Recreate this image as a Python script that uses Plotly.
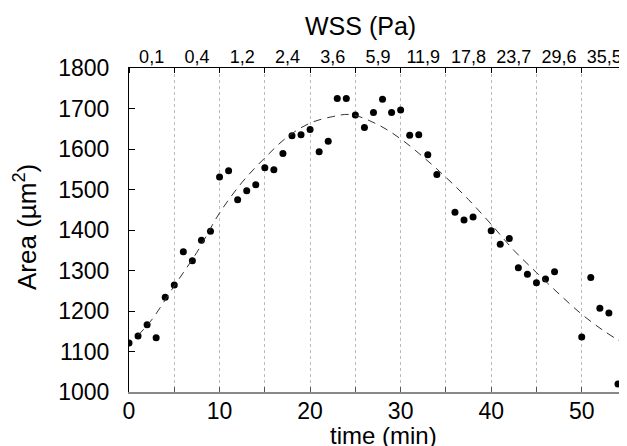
import plotly.graph_objects as go

# Measured data points (time in min, area in µm²)
time_min = [0, 1, 2, 3, 4, 5, 6, 7, 8, 9, 10, 11, 12, 13, 14, 15, 16, 17, 18, 19,
            20, 21, 22, 23, 24, 25, 26, 27, 28, 29, 30, 31, 32, 33, 34, 36, 37, 38,
            40, 41, 42, 43, 44, 45, 46, 47, 50, 51, 52, 53, 54]
area = [1121, 1138, 1166, 1134, 1234, 1264, 1346, 1324, 1375, 1397, 1531, 1546,
        1475, 1497, 1512, 1554, 1549, 1589, 1633, 1635, 1648, 1593, 1619, 1725,
        1725, 1684, 1653, 1690, 1723, 1690, 1696, 1634, 1635, 1586, 1537, 1444,
        1425, 1432, 1398, 1365, 1379, 1307, 1291, 1270, 1279, 1297, 1136, 1283,
        1207, 1195, 1020]

# Dashed fit curve
fit_t = [1, 2.5, 5, 7.5, 10, 12.5, 15, 17.5, 20, 22.5, 24.5, 27.5, 30, 32.5, 35,
         37.5, 40, 42.5, 45, 47.5, 50, 52.5, 55]
fit_area = [1140, 1178, 1262, 1345, 1442, 1518, 1578, 1630, 1664, 1680, 1685,
            1660, 1625, 1580, 1530, 1475, 1414, 1350, 1295, 1242, 1192, 1150, 1115]

# Axis ticks
bottom_ticks = [0, 5, 10, 15, 20, 25, 30, 35, 40, 45, 50]
bottom_labels = ["0", "", "10", "", "20", "", "30", "", "40", "", "50"]
wss_pos = [2.5, 7.5, 12.5, 17.5, 22.5, 27.5, 32.5, 37.5, 42.5, 47.5, 52.5]
wss_labels = ["0,1", "0,4", "1,2", "2,4", "3,6", "5,9", "11,9", "17,8", "23,7", "29,6", "35,5"]

FONT = "Arial, Liberation Sans, sans-serif"

fig = go.Figure()
fig.add_trace(go.Scatter(
    x=fit_t, y=fit_area, mode="lines", xaxis="x2", yaxis="y2",
    line=dict(color="#333333", width=1, dash="8px,6px", shape="spline"),
    hoverinfo="skip", showlegend=False))
fig.add_trace(go.Scatter(
    x=time_min, y=area, mode="markers",
    marker=dict(color="black", size=7),
    showlegend=False))

# page body has an 8px margin: figure is 8px smaller and margins shifted
fig.update_layout(
    width=619, height=438,
    margin=dict(l=121, r=0, t=60, b=54, autoexpand=False),
    paper_bgcolor="white", plot_bgcolor="white",
    font=dict(family=FONT, color="black"),
    xaxis=dict(range=[0, 55], tickmode="array", tickvals=bottom_ticks,
               ticktext=bottom_labels, ticks="inside", ticklen=5,
               tickcolor="#555555", showline=True, linecolor="#888888",
               linewidth=2, showgrid=True, gridcolor="#bbbbbb", griddash="dot",
               gridwidth=1, zeroline=False, tickfont=dict(size=23),
               ticklabelstandoff=-3, automargin=False),
    xaxis2=dict(range=[0, 55], overlaying="x", side="top", anchor="y2",
                tickmode="array", tickvals=wss_pos, ticktext=wss_labels,
                ticks="", showline=True, linecolor="black", linewidth=1,
                showgrid=False, zeroline=False, tickfont=dict(size=18),
                ticklabelstandoff=-3, automargin=False,
                minor=dict(tickmode="linear", tick0=0, dtick=5, ticks="inside",
                           ticklen=5, tickcolor="black", showgrid=False)),
    yaxis=dict(range=[1000, 1800], dtick=100, ticks="inside", ticklen=6,
               tickcolor="black", showline=True, linecolor="black", linewidth=1,
               showgrid=False, zeroline=False, tickfont=dict(size=23),
               ticklabelstandoff=14, automargin=False),
    yaxis2=dict(range=[1000, 1800], dtick=100, overlaying="y", side="right",
                anchor="x2", ticks="inside", ticklen=6, tickcolor="black",
                showline=False, showgrid=False, zeroline=False,
                showticklabels=False, automargin=False),
    annotations=[
        dict(text="time (min)", xref="paper", yref="paper", x=(383 - 129) / 498,
             y=(392 - 435) / 324, xanchor="center", yanchor="middle",
             showarrow=False, font=dict(size=24)),
        dict(text="WSS (Pa)", xref="paper", yref="paper", x=(360 - 129) / 498,
             y=(392 - 26) / 324, xanchor="center", yanchor="middle",
             showarrow=False, font=dict(size=25)),
        dict(text="Area (µm<sup>2</sup>)", xref="paper", yref="paper",
             x=(25 - 129) / 498, y=(392 - 227) / 324, xanchor="center",
             yanchor="middle", textangle=-90, showarrow=False,
             font=dict(size=26)),
    ],
)

fig.write_html("out.html")
